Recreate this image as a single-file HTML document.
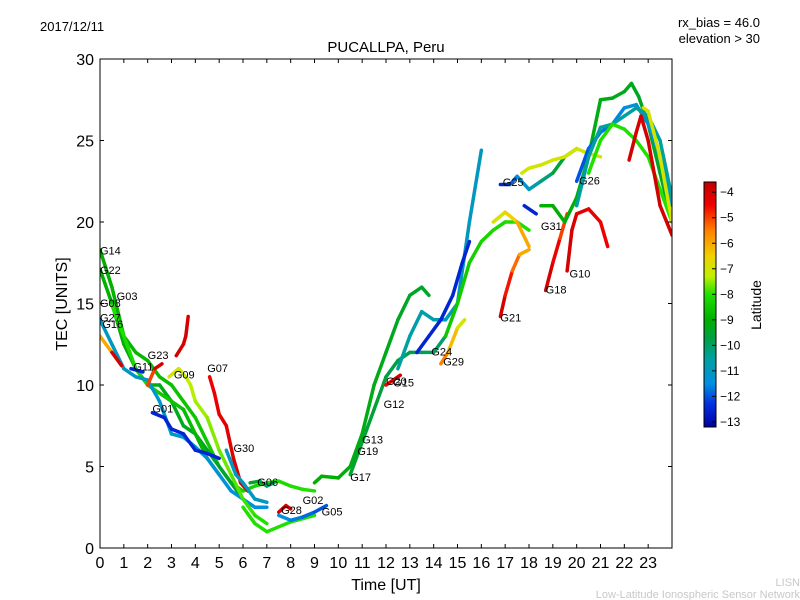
<!DOCTYPE html>
<html><head><meta charset="utf-8"><style>
body{margin:0;background:#fff;}
svg{display:block;font-family:"Liberation Sans","DejaVu Sans",sans-serif;}
</style></head><body>
<svg id="chart" width="800" height="600" viewBox="0 0 800 600" xmlns="http://www.w3.org/2000/svg">
<defs>
<linearGradient id="jet" x1="0" y1="0" x2="0" y2="1"></linearGradient>
<clipPath id="plotclip"><rect x="100" y="59" width="572" height="489"/></clipPath>
</defs>
<text x="40" y="31" font-size="13">2017/12/11</text>
<text x="760" y="27" font-size="13" text-anchor="end">rx_bias = 46.0</text>
<text x="760" y="43" font-size="13" text-anchor="end">elevation &gt; 30</text>
<text x="386" y="52" font-size="15" text-anchor="middle">PUCALLPA, Peru</text>
<text x="67" y="304" font-size="16" text-anchor="middle" transform="rotate(-90 67 304)">TEC [UNITS]</text>
<text x="386" y="590" font-size="16" text-anchor="middle">Time [UT]</text>
<text x="800" y="586" font-size="11" fill="#c8c8c8" text-anchor="end">LISN</text>
<text x="800" y="598" font-size="11" fill="#c8c8c8" text-anchor="end">Low-Latitude Ionospheric Sensor Network</text>
<g id="marks" clip-path="url(#plotclip)"></g>
<g id="labels"></g>
<rect x="100" y="59" width="572" height="489" fill="none" stroke="#000" stroke-width="1"/>
<g id="axes"></g>
<rect x="704" y="182" width="12" height="245" fill="url(#jet)" stroke="#000" stroke-width="1"/>
<g id="cbticks"></g>
<text x="761" y="305" font-size="14" text-anchor="middle" transform="rotate(-90 761 305)">Latitude</text>
</svg>
<script>
const xTicks=[0,1,2,3,4,5,6,7,8,9,10,11,12,13,14,15,16,17,18,19,20,21,22,23];
const yTicks=[0,5,10,15,20,25,30];
const cbTicks=[-4,-5,-6,-7,-8,-9,-10,-11,-12,-13];
const seriesNames=["G14","G22","G03","G08","G16","G23","G01","G09","Gspike","G07","G30","G06","G28","Glow","G02","Grise1","Grise2","G29","Gteal","G24","Gslow","G21","Gyel","G25","G31","Gyhigh","G18","G10","G26","Gblue","Gteal2","Glight","Gred","Gyel2","G20","G11"];
const seriesLat=[[-9,-8],[-9,-9.5],[-8,-9],[-11,-11.5],[-6,-4],[-5,-4],[-12.5,-12.5],[-7,-8],[-4,-4],[-4.5,-4],[-11,-11],[-9.5,-10],[-4,-4],[-8,-8],[-11.5,-12],[-9,-9.5],[-9.5,-10],[-5.5,-7],[-10.5,-11],[-12.5,-12.5],[-8.5,-8],[-4,-6],[-7,-6],[-12.5,-9],[-12.5,-12.5],[-7,-7],[-4,-5],[-4,-4.5],[-9,-9.5],[-12,-11],[-10.5,-10.5],[-8,-8],[-4,-4],[-7,-7],[-4.5,-4],[-12.5,-12]];
const seriesT=[
[0,0.5,1,1.5,2,2.5,3,3.5,4,4.5,5,5.5,6,6.5,7,7.5,8,8.5,9],
[0,0.5,1,1.5,2,2.5,3,3.5,4,4.5,5,5.5,6],
[0.5,1,1.5,2,2.5,3,3.5,4,4.5,5],
[0,0.5,1,1.5,2,2.5,3,3.5,4,4.5,5,5.5,6,6.5,7],
[0,0.5,0.9],
[2,2.3,2.6],
[2.2,2.7,3,3.5,4,4.5,5],
[2.9,3.3,3.6,3.8,4,4.5,5,5.5,6,6.5,7],
[3.2,3.5,3.6,3.7],
[4.6,4.8,5,5.3,5.6,5.9,6.2],
[5.3,5.7,6,6.5,7],
[6.3,6.7,7,7.3],
[7.5,7.8,8],
[6,6.5,7,7.5,8,8.5,9],
[7.5,8,8.5,9,9.5],
[9,9.3,10,10.5,11,11.5,12,12.5,13,13.5,13.8],
[10.5,11,11.5,12,12.5,13,13.5,14,14.5],
[14.3,14.6,15,15.3],
[12.5,13,13.5,14,14.5,15,15.5,16],
[13.3,13.8,14.3,14.8,15.2,15.5],
[14.5,15,15.5,16,16.5,17,17.5,18],
[16.8,17,17.3,17.6,18],
[16.5,17,17.5,18],
[16.8,17.2,17.5,18,18.5,19,19.5,20],
[17.8,18.3],
[17.7,18,18.5,19,19.5,20,20.5,21],
[18.7,19,19.3,19.6],
[19.6,19.8,20,20.5,21,21.3],
[18.5,19,19.5,20,20.5,21,21.5,22,22.3,22.6,23,23.5,24],
[20,20.5,21,21.5,22,22.5,23,23.5,24],
[20,20.5,21,21.5,22,22.5,23,23.5,24],
[20.5,21,21.5,22,22.5,23,23.5,24],
[22.2,22.5,22.7,23,23.5,24],
[22.8,23,23.5,24],
[12,12.3,12.6],
[1.3,1.8]];
const seriesV=[
[18.3,16,13,12,11.5,10.5,10,9,8,6.5,5,4,3.5,3.8,4,4.1,3.8,3.6,3.5],
[17.1,15,12.5,11,10,10,9,7.5,7,6,5,4,3],
[14.9,13,11,10,9.5,9,8.5,7,5.5,4.5],
[14,12.5,11,10.5,10.3,9,7,6.8,6.2,5.5,4.5,3.5,3,2.5,2.5],
[13,12,11.2],
[10,11,11.3],
[8.3,8,7.3,7,6,5.8,5.5],
[10.5,11,10.5,10,9,8,6,4.5,3,2,1.5],
[11.8,12.5,13,14.2],
[10.5,9.5,8.2,7.5,5.5,4,3.5],
[6,4.5,4,3,2.8],
[4,4.1,3.8,4],
[2.2,2.6,2.4],
[2.5,1.5,1,1.3,1.6,1.8,2],
[2,1.7,1.9,2.2,2.6],
[4,4.4,4.3,5,7,10,12,14,15.5,16,15.5],
[4.5,6.5,8.5,10.5,11.5,12,12,12,13],
[11.3,12,13.5,14],
[11,13,14.5,14,14,15,20,24.4],
[12,13,14,15.5,17.5,18.8],
[13,15,17.5,18.8,19.5,20,20,19.5],
[14.2,15.5,17,18,18.3],
[20,20.6,20,18.5],
[22.3,22.3,22.8,22,22.5,23,24,24.5],
[21,20.5],
[23,23.3,23.5,23.8,24,24.5,24.2,24],
[15.8,17.5,19,20.5],
[17,19.5,20.5,20.8,20,18.5],
[21,21,20,21.5,24,27.5,27.6,28,28.5,27.7,26,23,20],
[22.5,24.5,25.5,26,27,27.2,26,24,21],
[21,24,25.8,26,26.5,27,26.5,25,21.5],
[23,25,26,25.7,25,24,22,20],
[23.8,25.5,26.5,25,21,19.2],
[27,26.8,24,20],
[10,10.3,10.6],
[11,10.8]];
const labelNames=["G14","G22","G08","G03","G27","G16","G23","G11","G09","G07","G01","G30","G06","G28","G02","G05","G17","G19","G13","G12","G20","G15","G24","G29","G21","G25","G31","G18","G10","G26"];
const labelT=[0,0,0,0.7,0,0.1,2,1.4,3.1,4.5,2.2,5.6,6.6,7.6,8.5,9.3,10.5,10.8,11,11.9,12,12.3,13.9,14.4,16.8,16.9,18.5,18.7,19.7,20.1];
const labelV=[18,16.8,14.8,15.2,13.9,13.5,11.6,10.9,10.4,10.8,8.3,5.9,3.8,2.1,2.7,2,4.1,5.7,6.4,8.6,10,9.9,11.8,11.2,13.9,22.2,19.5,15.6,16.6,22.3];
const X=t=>100+t*572/24, Y=v=>548-v*489/30;
const CB=l=>182+(l-(-3.6))*(427-182)/(-13.2-(-3.6));
const cmapL=[-3.6,-4.5,-5.5,-6.5,-7.3,-8,-9,-9.7,-10.5,-11.5,-12.3,-13.2];
const cmapC=[[192,0,0],[240,0,0],[255,128,0],[240,208,0],[192,240,0],[32,224,0],[0,176,0],[0,160,64],[0,160,160],[0,144,224],[0,48,224],[0,0,160]];
function jet(l){
 if(l>=cmapL[0])return `rgb(${cmapC[0]})`;
 for(let i=0;i<cmapL.length-1;i++){
  if(l<=cmapL[i]&&l>=cmapL[i+1]){const f=(cmapL[i]-l)/(cmapL[i]-cmapL[i+1]);
   const c=cmapC[i].map((v,k)=>Math.round(v+(cmapC[i+1][k]-v)*f));return `rgb(${c})`;}
 }
 return `rgb(${cmapC[cmapC.length-1]})`;
}
const NS="http://www.w3.org/2000/svg";
function mk(tag,attrs,parent){const e=document.createElementNS(NS,tag);for(const k in attrs)e.setAttribute(k,attrs[k]);parent.appendChild(e);return e;}
const grad=document.getElementById('jet');
cmapL.forEach((l,i)=>{mk('stop',{offset:(l-(-3.6))/(-13.2+3.6),'stop-color':`rgb(${cmapC[i]})`},grad);});
const marks=document.getElementById('marks');
seriesT.forEach((ts,i)=>{
 const g=mk('g',{},marks);
 
 
 const vs=seriesV[i],la=seriesLat[i];
 for(let j=0;j<ts.length-1;j++){
  const f=ts.length>2?j/(ts.length-2):0;
  const l=la[0]+(la[1]-la[0])*f;
  const s=mk('line',{x1:X(ts[j]),y1:Y(vs[j]),x2:X(ts[j+1]),y2:Y(vs[j+1]),stroke:jet(l),'stroke-width':3.5,'stroke-linecap':'round'},g);
  
  
 }
});
const lg=document.getElementById('labels');
labelNames.forEach((n,i)=>{
 const t=mk('text',{x:X(labelT[i]),y:Y(labelV[i]),'font-size':11},lg);
 t.textContent=n;
 
 
});
const ax=document.getElementById('axes');
xTicks.forEach(t=>{
 const x=X(t);
 mk('line',{x1:x,y1:548,x2:x,y2:544,stroke:'#000'},ax);
 mk('line',{x1:x,y1:59,x2:x,y2:63,stroke:'#000'},ax);
 const e=mk('text',{x:x,y:568,'font-size':16,'text-anchor':'middle'},ax);
 e.textContent=t;
 
 
});
yTicks.forEach(v=>{
 const y=Y(v);
 mk('line',{x1:100,y1:y,x2:104,y2:y,stroke:'#000'},ax);
 mk('line',{x1:672,y1:y,x2:668,y2:y,stroke:'#000'},ax);
 const e=mk('text',{x:94,y:y+6,'font-size':16,'text-anchor':'end'},ax);
 e.textContent=v;
 
 
});
const cb=document.getElementById('cbticks');
cbTicks.forEach(v=>{
 const y=CB(v);
 mk('line',{x1:712,y1:y,x2:716,y2:y,stroke:'#000'},cb);
 const e=mk('text',{x:720,y:y+4,'font-size':12},cb);
 e.textContent='\u2212'+Math.abs(v);
 
 
});
</script>
</body></html>
